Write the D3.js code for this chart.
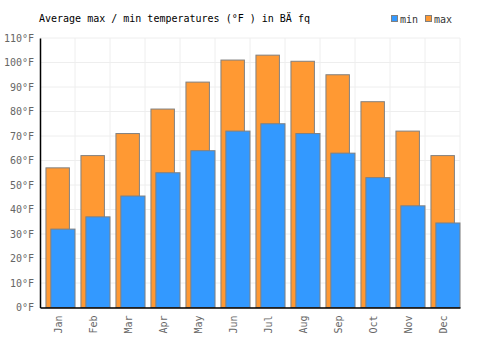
<!DOCTYPE html>
<html>
<head>
<meta charset="utf-8">
<script src="https://cdn.jsdelivr.net/npm/d3@7"></script>
<style>
  body { margin: 0; background: #fff; }
  text { font-family: "DejaVu Sans Mono", monospace; }
</style>
</head>
<body>
<svg id="mainsvg" width="500" height="350"></svg>
<script>
const months = ['Jan', 'Feb', 'Mar', 'Apr', 'May', 'Jun', 'Jul', 'Aug', 'Sep', 'Oct', 'Nov', 'Dec'];
const maxTemps = [57, 62, 71, 81, 92, 101, 103, 100.5, 95, 84, 72, 62];
const minTemps = [32, 37, 45.5, 55, 64, 72, 75, 71, 63, 53, 41.5, 34.5];
const yTicks = [0, 10, 20, 30, 40, 50, 60, 70, 80, 90, 100, 110];

const svg = d3.select('#mainsvg');
const margin = { top: 38, right: 40, bottom: 42.5, left: 40 };
const width = +svg.attr('width');
const height = +svg.attr('height');
const innerWidth = width - margin.left - margin.right;
const innerHeight = height - margin.top - margin.bottom;

const g = svg.append('g')
  .attr('transform', `translate(${margin.left}, ${margin.top})`);

const xScale = d3.scaleBand()
  .domain(months)
  .range([0, innerWidth])
  .padding(0);

const yScale = d3.scaleLinear()
  .domain([0, 110])
  .range([innerHeight, 0]);

const bw = xScale.bandwidth();

// grid
g.append('g').selectAll('line.h').data(yTicks).join('line')
  .attr('x1', 0).attr('x2', innerWidth)
  .attr('y1', d => yScale(d)).attr('y2', d => yScale(d))
  .attr('stroke', '#eeeeee').attr('stroke-width', 1);

g.append('g').selectAll('line.v').data(months).join('line')
  .attr('x1', d => xScale(d) + bw).attr('x2', d => xScale(d) + bw)
  .attr('y1', 0).attr('y2', innerHeight)
  .attr('stroke', '#eeeeee').attr('stroke-width', 1);

// bars
g.append('g').selectAll('rect').data(months).join('rect')
  .attr('x', d => xScale(d) + bw * 0.17)
  .attr('width', bw * 0.67)
  .attr('y', (d, i) => yScale(maxTemps[i]))
  .attr('height', (d, i) => innerHeight - yScale(maxTemps[i]))
  .attr('fill', '#ff9933')
  .attr('stroke', '#808080').attr('stroke-width', 1);

g.append('g').selectAll('rect').data(months).join('rect')
  .attr('x', d => xScale(d) + bw * 0.31)
  .attr('width', bw * 0.69)
  .attr('y', (d, i) => yScale(minTemps[i]))
  .attr('height', (d, i) => innerHeight - yScale(minTemps[i]))
  .attr('fill', '#3399ff')
  .attr('stroke', '#808080').attr('stroke-width', 1);

// axes
const yAxis = d3.axisLeft(yScale).tickValues(yTicks).tickSize(0).tickPadding(6)
  .tickFormat(d => d + '°F');
const yAxisGroup = g.append('g').call(yAxis);
yAxisGroup.select('.domain').attr('stroke', '#000').attr('stroke-width', 1.5);
yAxisGroup.selectAll('text').attr('fill', '#666').attr('font-size', 10)
  .attr('font-family', '"DejaVu Sans Mono", monospace');

const xAxis = d3.axisBottom(xScale).tickSize(0).tickPadding(0);
const xAxisGroup = g.append('g').call(xAxis)
  .attr('transform', `translate(0, ${innerHeight})`);
xAxisGroup.select('.domain').attr('stroke', '#000').attr('stroke-width', 1.5);
xAxisGroup.selectAll('text')
  .attr('fill', '#666').attr('font-size', 10)
  .attr('font-family', '"DejaVu Sans Mono", monospace')
  .attr('text-anchor', 'end')
  .attr('dy', null).attr('y', 0)
  .attr('transform', 'translate(4, 8) rotate(-90)');

// title
svg.append('text')
  .attr('x', 39).attr('y', 22)
  .attr('font-size', 10).attr('fill', '#000')
  .text('Average max / min temperatures (°F ) in BÄ fq');

// legend
const legend = [
  { name: 'min', color: '#3399ff', x: 391 },
  { name: 'max', color: '#ff9933', x: 425 }
];
const lg = svg.append('g').selectAll('g').data(legend).join('g')
  .attr('transform', d => `translate(${d.x}, 15)`);
lg.append('rect').attr('x', 0.5).attr('y', 0.5).attr('width', 6).attr('height', 6)
  .attr('fill', d => d.color).attr('stroke', '#808080');
lg.append('text').attr('x', 9).attr('y', 7.5)
  .attr('font-size', 10).attr('fill', '#333')
  .text(d => d.name);
</script>
</body>
</html>
